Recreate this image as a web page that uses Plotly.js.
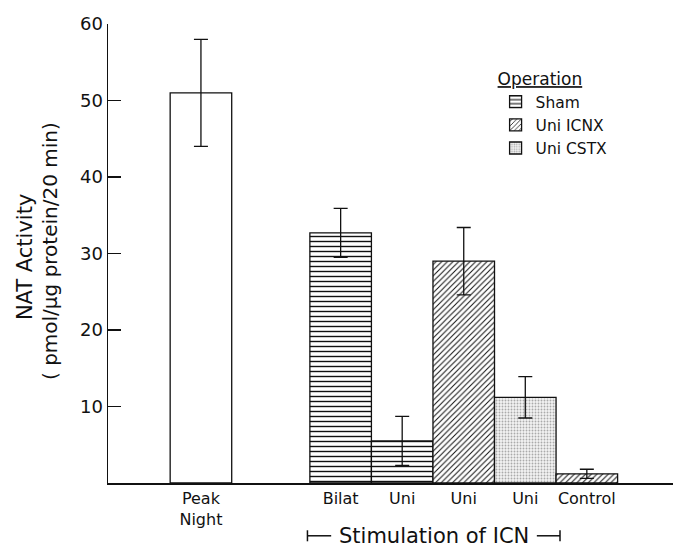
<!DOCTYPE html>
<html>
<head>
<meta charset="utf-8">
<script src="https://cdn.plot.ly/plotly-3.0.1.min.js"></script>
<style>html,body{margin:0;padding:0;background:#fff;}#chart{width:673px;height:548px;}</style>
</head>
<body>
<div id="chart"></div>
<script>
// ---- data ----
const tickLabels = ['Peak<br>Night', 'Bilat', 'Uni', 'Uni', 'Uni', 'Control'];
const peakNight = {value: 51.0, err: 7.0};
const shamLabels = ['Bilat', 'Uni'];
const shamValues = [32.7, 5.5];
const shamErrors = [3.2, 3.2];
const icnxValues = [29.0];
const icnxErrors = [4.4];
const cstxValues = [11.2];
const cstxErrors = [2.7];
const controlValues = [1.2];
const controlErrors = [0.6];
const legendNames = ['Sham', 'Uni ICNX', 'Uni CSTX'];

// ---- layout positions (slot index along the x axis) ----
const peakSlot = 0;
const stimStart = 2.27;
const slots = [peakSlot, stimStart, stimStart + 1, stimStart + 2, stimStart + 3, stimStart + 4];

const FONT = 'DejaVu Sans, sans-serif';
const line = {color: '#111', width: 1.3};
const errStyle = (arr) => ({type: 'data', array: arr, visible: true, color: '#111', thickness: 1.3, width: 7});
const diag = {shape: '/', fgcolor: '#111', bgcolor: 'white', size: 4, solidity: 0.25};

const traces = [
  {
    type: 'bar', x: [slots[0]], y: [peakNight.value], width: 1, showlegend: false,
    marker: {color: 'white', line: line}, error_y: errStyle([peakNight.err]), hoverinfo: 'none'
  },
  {
    type: 'bar', name: legendNames[0], x: [slots[1], slots[2]], y: shamValues, width: 1,
    marker: {color: 'white', line: line, pattern: {shape: '-', fgcolor: '#111', bgcolor: 'white', size: 5, solidity: 0.28}},
    error_y: errStyle(shamErrors), hoverinfo: 'none'
  },
  {
    type: 'bar', name: legendNames[1], x: [slots[3]], y: icnxValues, width: 1,
    marker: {color: 'white', line: line, pattern: diag},
    error_y: errStyle(icnxErrors), hoverinfo: 'none'
  },
  {
    type: 'bar', name: legendNames[2], x: [slots[4]], y: cstxValues, width: 1,
    marker: {color: '#eee', line: line, pattern: {shape: '.', fgcolor: '#aaa', bgcolor: '#f3f3f3', size: 3, solidity: 0.3}},
    error_y: errStyle(cstxErrors), hoverinfo: 'none'
  },
  {
    type: 'bar', x: [slots[5]], y: controlValues, width: 1, showlegend: false,
    marker: {color: 'white', line: line, pattern: diag},
    error_y: errStyle(controlErrors), hoverinfo: 'none'
  }
];

const layout = {
  width: 673, height: 548,
  margin: {l: 108, r: 0, t: 24, b: 65},
  paper_bgcolor: 'white', plot_bgcolor: 'white',
  font: {family: FONT, color: '#111'},
  showlegend: true,
  bargap: 0,
  xaxis: {
    range: [-1.51, 7.67], showgrid: false, zeroline: false,
    showline: true, linecolor: '#111', linewidth: 1.5,
    tickmode: 'array', tickvals: slots, ticktext: tickLabels, ticks: '',
    tickfont: {family: FONT, size: 16, color: '#111'}
  },
  yaxis: {
    range: [0, 60], showgrid: false, zeroline: false,
    showline: true, linecolor: '#111', linewidth: 1.5,
    tickmode: 'array', tickvals: [10, 20, 30, 40, 50, 60], ticktext: ['10', '20', '30', '40', '50', '60'],
    ticks: 'inside', ticklen: 13, tickwidth: 1.5, tickcolor: '#111',
    tickfont: {family: FONT, size: 18, color: '#111'}
  },
  legend: {
    x: 0.686, y: 0.915, xanchor: 'left', yanchor: 'top',
    bgcolor: 'rgba(0,0,0,0)', borderwidth: 0,
    font: {family: FONT, size: 15.5, color: '#111'},
    title: {text: '<span style="text-decoration:underline">Operation</span>', font: {family: FONT, size: 17, color: '#111'}},
    tracegroupgap: 0, itemwidth: 30
  },
  annotations: [
    {xref: 'paper', yref: 'paper', x: -0.147, y: 0.492, text: 'NAT Activity', textangle: -90,
     showarrow: false, font: {family: FONT, size: 21, color: '#111'}, xanchor: 'center', yanchor: 'middle'},
    {xref: 'paper', yref: 'paper', x: -0.103, y: 0.505, text: '( pmol/μg protein/20 min)', textangle: -90,
     showarrow: false, font: {family: FONT, size: 20, color: '#111'}, xanchor: 'center', yanchor: 'middle'},
    {xref: 'paper', yref: 'paper', x: 0.577, y: -0.115, text: 'Stimulation of ICN',
     showarrow: false, font: {family: FONT, size: 21, color: '#111'}, xanchor: 'center', yanchor: 'middle'}
  ],
  shapes: [
    {type: 'line', xref: 'paper', yref: 'paper', x0: 0.353, x1: 0.395, y0: -0.115, y1: -0.115, line: {color: '#111', width: 1.5}},
    {type: 'line', xref: 'paper', yref: 'paper', x0: 0.353, x1: 0.353, y0: -0.103, y1: -0.127, line: {color: '#111', width: 1.5}},
    {type: 'line', xref: 'paper', yref: 'paper', x0: 0.759, x1: 0.800, y0: -0.115, y1: -0.115, line: {color: '#111', width: 1.5}},
    {type: 'line', xref: 'paper', yref: 'paper', x0: 0.800, x1: 0.800, y0: -0.103, y1: -0.127, line: {color: '#111', width: 1.5}}
  ]
};

Plotly.newPlot('chart', traces, layout, {staticPlot: true, displayModeBar: false});
</script>
</body>
</html>
